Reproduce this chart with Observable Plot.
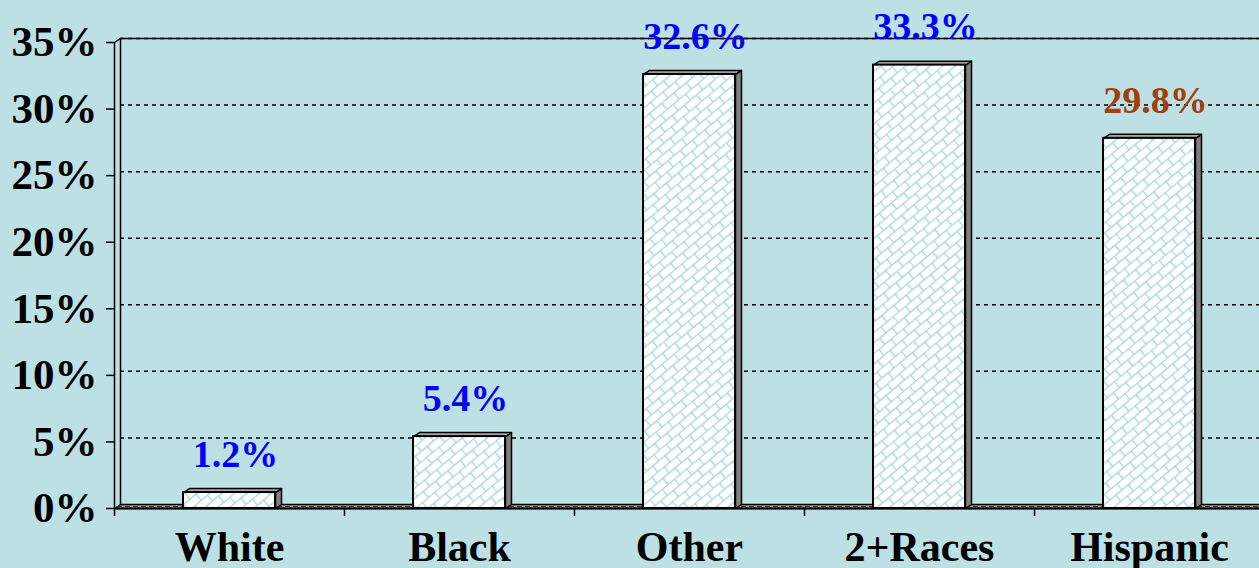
<!DOCTYPE html>
<html>
<head>
<meta charset="utf-8">
<script src="https://cdn.jsdelivr.net/npm/d3@7"></script>
<script src="https://cdn.jsdelivr.net/npm/@observablehq/plot@0.6"></script>
<style>
  html, body { margin: 0; padding: 0; background: #BCE0E3; }
  #chart { width: 1259px; height: 568px; overflow: hidden; }
</style>
</head>
<body>
<div id="chart"></div>
<script>
// ---- data ----
const categories = ["White", "Black", "Other", "2+Races", "Hispanic"];
const barValues = [1.2, 5.4, 32.6, 33.3, 27.8];
const labelTexts = ["1.2%", "5.4%", "32.6%", "33.3%", "29.8%"];
const labelColors = ["#0000FF", "#0000FF", "#0000FF", "#0000FF", "#A0400F"];
const yTicks = [0, 5, 10, 15, 20, 25, 30, 35];

// ---- layout ----
const W = 1259, H = 568;
const xRange = [114, 1264], yRange = [508, 42];
const xDomain = [0, categories.length], yDomain = [0, 35];
const pxPerX = (xRange[1] - xRange[0]) / (xDomain[1] - xDomain[0]);
const pxPerY = (yRange[0] - yRange[1]) / (yDomain[1] - yDomain[0]);
const DX = 6 / pxPerX, DY = 4 / pxPerY;   // 3-D depth
const half = 0.2;                           // half bar width in band units
const font = "'Liberation Serif', 'Times New Roman', serif";

const bars = categories.map((c, i) => ({
  cat: c, i, cx: i + 0.5, x1: i + 0.5 - half, x2: i + 0.5 + half,
  v: barValues[i], label: labelTexts[i], color: labelColors[i]
}));

const sidePts = bars.flatMap(b => [
  {z: b.i, x: b.x2, y: 0}, {z: b.i, x: b.x2, y: b.v},
  {z: b.i, x: b.x2 + DX, y: b.v + DY}, {z: b.i, x: b.x2 + DX, y: DY}
]);
const topPts = bars.flatMap(b => [
  {z: b.i, x: b.x1, y: b.v}, {z: b.i, x: b.x2, y: b.v},
  {z: b.i, x: b.x2 + DX, y: b.v + DY}, {z: b.i, x: b.x1 + DX, y: b.v + DY}
]);
const xEnd = xDomain[1] + 0.1;
const floorPts = [
  {x: 0, y: 0}, {x: xEnd, y: 0}, {x: xEnd, y: DY}, {x: DX, y: DY}
];
const wallLeft = [
  {x: 0, y: 0}, {x: 0, y: 35}, {x: DX, y: 35 + DY}, {x: xEnd, y: 35 + DY}
];

const chart = Plot.plot({
  width: W, height: H,
  marginLeft: 114, marginTop: 42, marginBottom: 60, marginRight: 0,
  style: {background: "#BCE0E3", overflow: "hidden"},
  x: {domain: xDomain, range: xRange, axis: null},
  y: {domain: yDomain, range: yRange, axis: null},
  marks: [
    // gridlines on back wall
    Plot.ruleY(yTicks.filter(d => d > 0), {
      y: d => d + DY, x1: DX, x2: xEnd,
      stroke: "black", strokeWidth: 1.5, strokeDasharray: "4,4"
    }),
    // back-wall left edge
    Plot.ruleX([DX], {y1: DY, y2: 35 + DY, stroke: "black", strokeWidth: 1.5}),
    Plot.line(wallLeft, {x: "x", y: "y", stroke: "black", strokeWidth: 1.5}),
    // floor
    Plot.line(floorPts, {x: "x", y: "y", curve: "linear-closed", fill: "#9a9a9a", stroke: "black", strokeWidth: 1.5}),
    Plot.ruleY([DY / 2], {x1: DX / 2, x2: xEnd, stroke: "#333", strokeWidth: 1, strokeDasharray: "5,3"}),
    // bars: side, top, front
    Plot.line(sidePts, {x: "x", y: "y", z: "z", curve: "linear-closed", fill: "#808080", stroke: "black", strokeWidth: 1.5}),
    Plot.line(topPts, {x: "x", y: "y", z: "z", curve: "linear-closed", fill: "#a6a6a6", stroke: "black", strokeWidth: 1.5}),
    Plot.rectY(bars, {x1: "x1", x2: "x2", y1: 0, y2: "v", fill: "url(#brick)", stroke: "black", strokeWidth: 2}),
    // front axis line + x ticks
    Plot.ruleY([0], {x1: 0, x2: xEnd, stroke: "black", strokeWidth: 2}),
    Plot.ruleX(d3.range(0, categories.length), {y1: 0, y2: -8 / pxPerY, stroke: "black", strokeWidth: 1.5}),
    // y axis
    Plot.axisY(yTicks, {
      tickSize: 8, tickPadding: 9, tickFormat: d => d + "%",
      fontSize: 43, fontWeight: "bold", fontFamily: font, fill: "black",
      stroke: "black", strokeWidth: 1.5
    }),
    // category labels
    Plot.text(bars, {x: "cx", y: 0, text: "cat", dy: 39, fontSize: 42, fontWeight: "bold", fontFamily: font, fill: "black"}),
    // value labels
    Plot.text(bars, {x: "cx", y: "v", text: "label", dy: -38, dx: 6, fontSize: 38, fontWeight: "bold", fontFamily: font, fill: "color"})
  ]
});

// brick pattern definition
const ns = "http://www.w3.org/2000/svg";
const svgEl = chart.tagName.toLowerCase() === "svg" ? chart : chart.querySelector("svg");
const defs = document.createElementNS(ns, "defs");
defs.innerHTML = `
  <pattern id="brick" patternUnits="userSpaceOnUse" width="16" height="16" patternTransform="rotate(-40)">
    <rect width="16" height="16" fill="white"/>
    <path d="M0 0.5 H16 M0 8.5 H16 M0.5 0 V8.5 M8.5 8.5 V16" stroke="#A9D8DD" stroke-width="1.5" fill="none"/>
  </pattern>`;
svgEl.insertBefore(defs, svgEl.firstChild);

document.getElementById("chart").appendChild(chart);
</script>
</body>
</html>
